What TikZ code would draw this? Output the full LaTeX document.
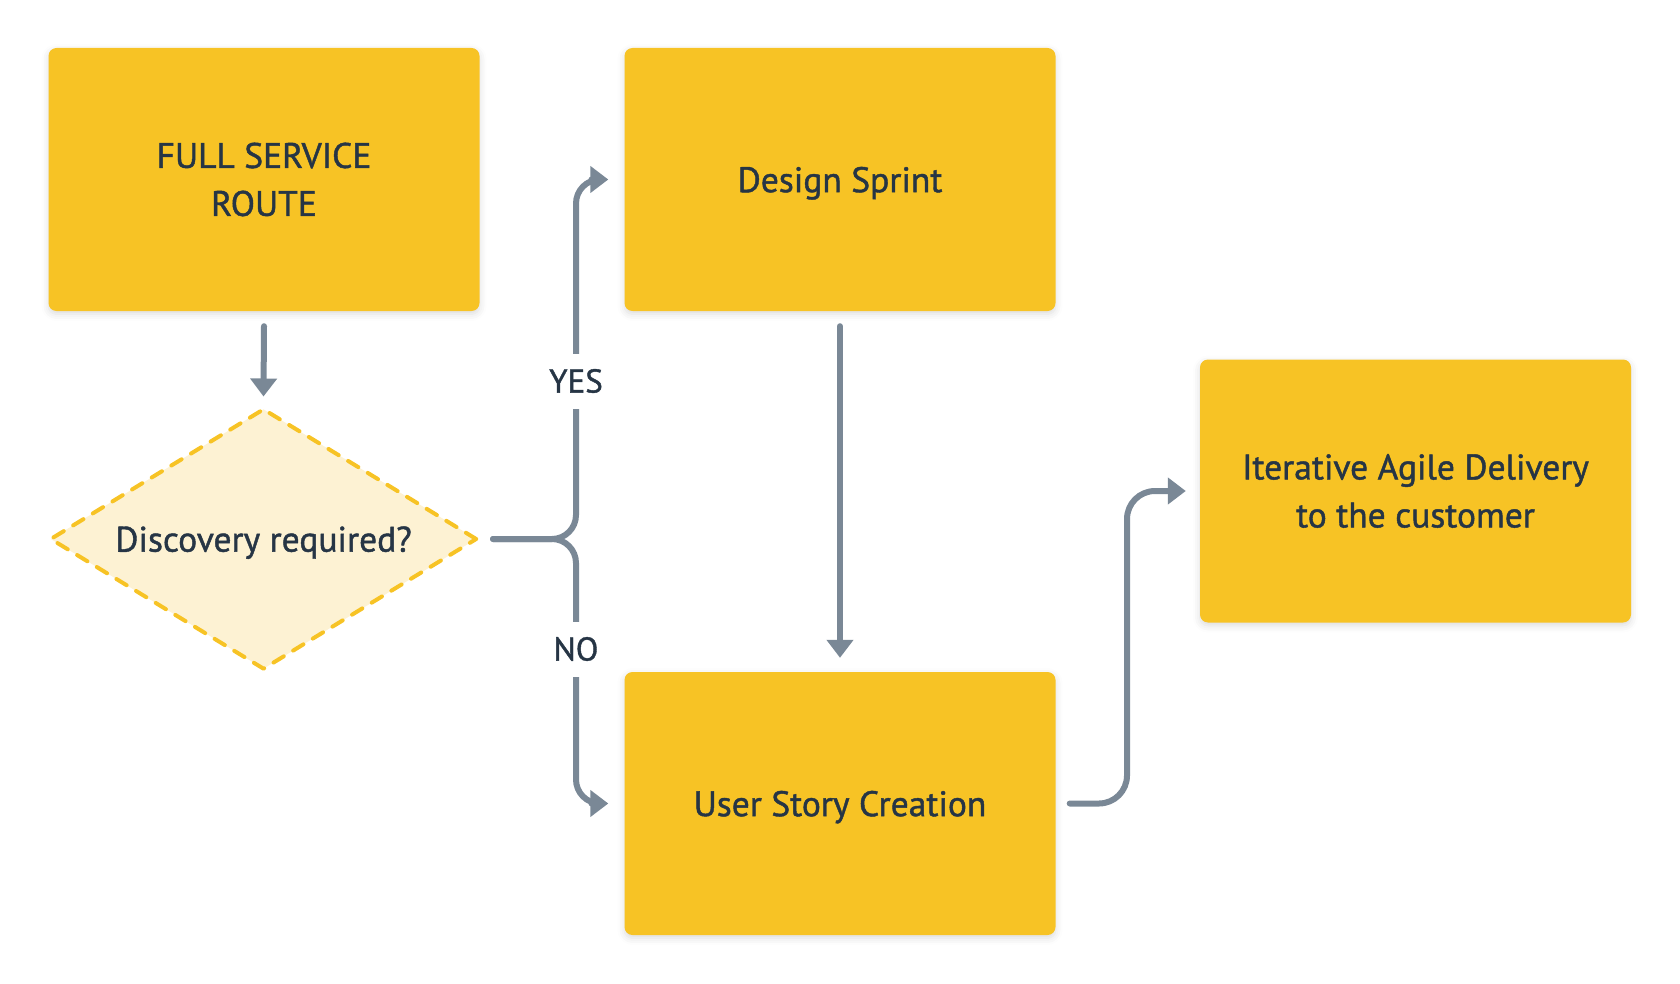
\documentclass[tikz,border=0pt]{standalone}
\usepackage{fontspec}
\setmainfont{PT Sans}[FakeBold=1.2]
\usetikzlibrary{shapes.geometric,arrows.meta,shadows.blur}
\definecolor{boxyellow}{HTML}{F7C325}
\definecolor{diafill}{HTML}{FDF2D3}
\definecolor{txt}{HTML}{263545}
\definecolor{arrgray}{HTML}{7A8896}
\tikzset{
  stepbox/.style={rectangle, rounded corners=8pt, fill=boxyellow, draw=none,
    minimum width=431pt, minimum height=263pt, align=center, text=txt,
    font=\fontsize{35.5}{48}\selectfont,
    blur shadow={shadow xshift=0pt, shadow yshift=-3pt, shadow blur radius=7pt, shadow opacity=14}},
  decision/.style={diamond, fill=diafill, draw=boxyellow, line width=4pt,
    dash pattern=on 12pt off 11pt, line cap=round, line join=round,
    minimum width=427pt, minimum height=261pt, inner sep=0pt, aspect=1.636,
    text=txt, font=\fontsize{35.5}{48}\selectfont},
  arr/.style={draw=arrgray, line width=6pt, line cap=round,
    -{Triangle[length=18pt,width=26pt]}},
  lbl/.style={fill=white, text=txt, font=\fontsize{33}{40}\selectfont,
    minimum height=55pt, inner xsep=4pt, inner ysep=0pt}
}
\begin{document}
\begin{tikzpicture}[x=1pt,y=-1pt]
\useasboundingbox (0,0) rectangle (1680,984);
\node[stepbox] (b1) at (264,179.5) {FULL SERVICE\\ROUTE};
\node[stepbox, text depth=0pt] (b2) at (840,179.5) {Design Sprint};
\node[stepbox, text depth=0pt] (b3) at (840,803.5) {User Story Creation};
\node[stepbox] (b4) at (1415.5,491) {Iterative Agile Delivery\\to the customer};
\node[decision, text depth=0pt] (d) at (263.5,539) {Discovery required?};
\coordinate (j) at (576,539);
\coordinate (k) at (1127,802);
% arrows
\draw[arr] ([yshift=-15pt]b1.south) -- ([yshift=10pt]d.north);
\draw[arr, rounded corners=24pt] ([xshift=14pt]d.east) -| (j |- b2.west) -- ([xshift=-16pt]b2.west);
\draw[arr, rounded corners=24pt] ([xshift=14pt]d.east) -| (j |- b3.west) -- ([xshift=-16pt]b3.west);
\node[lbl] (yes) at (576,381) {YES};
\node[lbl] (no) at (576,649) {NO};
\draw[arr] ([yshift=-15pt]b2.south) -- ([yshift=14pt]b3.north);
\draw[arr, rounded corners=28pt] ([xshift=14pt]b3.east) -| (k |- b4.west) -- ([xshift=-14pt]b4.west);
\end{tikzpicture}
\end{document}
